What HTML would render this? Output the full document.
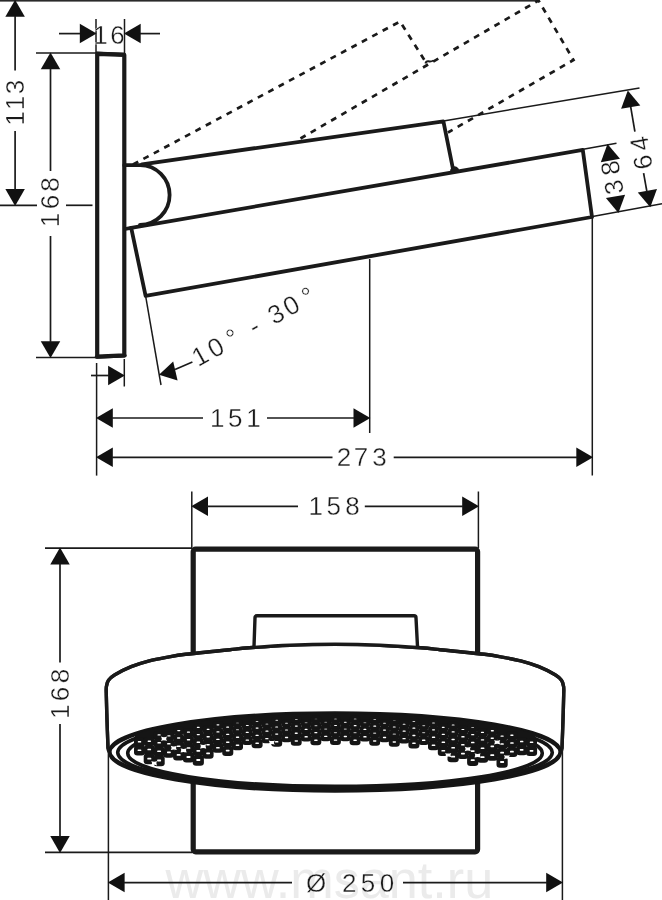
<!DOCTYPE html>
<html lang="en">
<head>
<meta charset="utf-8">
<title>Dimension drawing</title>
<style>
html,body{margin:0;padding:0;background:#fff;}
body{width:662px;height:900px;overflow:hidden;}
svg{display:block;}
svg{filter:grayscale(1);}
svg line{stroke:#1a1a1a;fill:none;}
svg path{stroke:#1a1a1a;}
.nf{fill:none;}
.wf{fill:#fff;}
.ar{fill:#111;stroke:none;}
.o3{stroke-width:3.8;stroke-linejoin:round;stroke-linecap:round;}
.o4{stroke:#1a1a1a;stroke-width:4.2;stroke-linejoin:round;}
.dash path{fill:none;stroke-width:2.7;stroke-dasharray:5.9 5.9;}
.t{font-family:"Liberation Sans","DejaVu Sans",sans-serif;fill:#1a1a1a;stroke:#fff;stroke-width:0.35;}
</style>
</head>
<body>
<svg width="662" height="900" viewBox="0 0 662 900">
<rect x="0" y="0" width="662" height="900" fill="#fff" stroke="none"/>
<rect x="0" y="0" width="538" height="1.6" fill="#2a2a2a" stroke="none"/>
<polygon class="ar" points="15.10,-0.10 24.85,16.70 5.35,16.70"/>
<polygon class="ar" points="15.10,205.90 5.35,189.10 24.85,189.10"/>
<line x1="15.10" y1="16.00" x2="15.10" y2="70.50" stroke-width="1.7" />
<line x1="15.10" y1="131.00" x2="15.10" y2="190.00" stroke-width="1.7" />
<text class="t" transform="translate(15.30,103.00) rotate(-90)" x="-15.40 0.00 16.00" y="8.94" font-size="26" text-anchor="middle">113</text>
<line x1="0.00" y1="205.30" x2="37.00" y2="205.30" stroke-width="1.7" />
<line x1="66.00" y1="205.30" x2="92.50" y2="205.30" stroke-width="1.7" />
<polygon class="ar" points="96.60,33.60 79.80,43.35 79.80,23.85"/>
<polygon class="ar" points="123.90,33.60 140.70,23.85 140.70,43.35"/>
<line x1="59.00" y1="33.60" x2="80.00" y2="33.60" stroke-width="1.7" />
<line x1="140.00" y1="33.60" x2="160.00" y2="33.60" stroke-width="1.7" />
<line x1="96.00" y1="19.00" x2="96.00" y2="53.00" stroke-width="1.5" />
<line x1="124.50" y1="19.00" x2="124.50" y2="53.00" stroke-width="1.5" />
<text class="t" transform="translate(110.50,35.20) rotate(0)" x="-10.00 7.00" y="8.94" font-size="26" text-anchor="middle">16</text>
<line x1="36.00" y1="53.00" x2="96.00" y2="53.00" stroke-width="1.7" />
<line x1="36.00" y1="357.50" x2="96.00" y2="357.50" stroke-width="1.7" />
<polygon class="ar" points="50.50,52.40 60.25,69.20 40.75,69.20"/>
<polygon class="ar" points="50.50,358.10 40.75,341.30 60.25,341.30"/>
<line x1="50.50" y1="69.00" x2="50.50" y2="171.00" stroke-width="1.7" />
<line x1="50.50" y1="236.00" x2="50.50" y2="342.00" stroke-width="1.7" />
<text class="t" transform="translate(50.50,202.00) rotate(-90)" x="-18.00 0.00 17.50" y="8.94" font-size="26" text-anchor="middle">168</text>
<path class="o4 nf" d="M97.2,53.9 L124.3,54.9 L124.3,355.3 L97.2,356.6 Z"/>
<path class="nf" d="M96.5,357 L125,355.7" style="stroke-width:3.6;stroke-linecap:round"/>
<path class="nf" d="M96,53.3 L125,54.6" style="stroke-width:3.6"/>
<path class="o3 nf" d="M124.3,165.2 L140,165.2 A29.6,29.8 0 0 1 140,224.8"/>
<path class="o3 nf" d="M142,164.3 L443.4,121.3 L453.3,170.5"/>
<path class="o3 nf" d="M452,170.5 C453,168 455,167.5 457,169.5" stroke-width="2"/>
<path class="o3 nf" d="M131.2,227.9 L582.8,149.9 L592,217 L145.6,295.9 Z"/>
<path class="o3 nf" d="M131.2,227.9 L125,229"/>
<g class="dash">
<path d="M133,164.5 L400,21.5 L426,62.5"/>
<path d="M300.5,138.5 L538.5,0.5 L573.5,60 L448,132.5"/>
</g>
<path class="nf" d="M425.5,63.5 q0.5,-2.5 3,-2.2 q2.5,0.6 5,-0.8" style="stroke-width:2"/>
<line x1="443.50" y1="121.00" x2="639.50" y2="87.90" stroke-width="1.5" />
<line x1="583.20" y1="149.20" x2="616.50" y2="143.20" stroke-width="1.5" />
<line x1="592.50" y1="216.50" x2="662.00" y2="203.80" stroke-width="1.5" />
<polygon class="ar" points="627.80,90.61 640.31,105.46 621.11,108.85"/>
<polygon class="ar" points="650.30,207.29 637.79,192.44 656.99,189.05"/>
<line x1="630.70" y1="106.90" x2="634.90" y2="131.70" stroke-width="1.7" />
<line x1="643.60" y1="173.20" x2="646.90" y2="191.60" stroke-width="1.7" />
<text class="t" transform="translate(641.30,153.00) rotate(-100)" x="-9.43 9.43" y="8.94" font-size="26" text-anchor="middle">64</text>
<polygon class="ar" points="607.50,144.01 620.01,158.86 600.81,162.25"/>
<polygon class="ar" points="618.40,212.89 605.89,198.04 625.09,194.65"/>
<text class="t" transform="translate(612.20,177.60) rotate(-100)" x="-9.73 9.73" y="8.94" font-size="26" text-anchor="middle">38</text>
<line x1="592.30" y1="217.00" x2="592.30" y2="475.50" stroke-width="1.5" />
<line x1="369.70" y1="259.00" x2="369.70" y2="433.00" stroke-width="1.5" />
<line x1="96.60" y1="363.00" x2="96.60" y2="475.60" stroke-width="1.5" />
<line x1="124.30" y1="359.00" x2="124.30" y2="386.50" stroke-width="1.5" />
<polygon class="ar" points="124.90,375.50 108.10,385.25 108.10,365.75"/>
<line x1="91.00" y1="375.50" x2="109.00" y2="375.50" stroke-width="1.7" />
<line x1="145.60" y1="295.90" x2="161.00" y2="385.00" stroke-width="1.5" />
<polygon class="ar" points="159.02,374.73 173.19,361.46 177.58,380.46"/>
<line x1="175.00" y1="369.50" x2="192.40" y2="362.00" stroke-width="1.7" />
<text class="t" transform="translate(200.10,356.00) rotate(-29)" x="0.00 17.80 37.20 49.00 61.60 74.00 86.70 104.20 123.70" y="8.94" font-size="26" text-anchor="middle">10° - 30°</text>
<polygon class="ar" points="96.00,418.00 112.80,408.25 112.80,427.75"/>
<polygon class="ar" points="370.30,418.00 353.50,427.75 353.50,408.25"/>
<line x1="112.00" y1="418.00" x2="203.00" y2="418.00" stroke-width="1.7" />
<line x1="267.00" y1="418.00" x2="354.00" y2="418.00" stroke-width="1.7" />
<text class="t" transform="translate(235.50,418.00) rotate(0)" x="-18.20 -0.40 18.10" y="8.94" font-size="26" text-anchor="middle">151</text>
<polygon class="ar" points="96.00,457.30 112.80,447.55 112.80,467.05"/>
<polygon class="ar" points="593.10,457.30 576.30,467.05 576.30,447.55"/>
<line x1="112.00" y1="457.30" x2="332.50" y2="457.30" stroke-width="1.7" />
<line x1="393.70" y1="457.30" x2="577.00" y2="457.30" stroke-width="1.7" />
<text class="t" transform="translate(361.60,457.40) rotate(0)" x="-17.70 -0.60 17.80" y="8.94" font-size="26" text-anchor="middle">273</text>
<text x="165.5" y="897.5" font-size="52.2" style="fill:#ebebeb;stroke:none;font-family:'Liberation Sans',sans-serif">www.msant.ru</text>
<line x1="191.80" y1="491.50" x2="191.80" y2="548.00" stroke-width="1.5" />
<line x1="478.40" y1="491.50" x2="478.40" y2="548.00" stroke-width="1.5" />
<polygon class="ar" points="191.20,506.30 208.00,496.55 208.00,516.05"/>
<polygon class="ar" points="479.00,506.30 462.20,516.05 462.20,496.55"/>
<line x1="207.00" y1="506.30" x2="298.00" y2="506.30" stroke-width="1.7" />
<line x1="364.80" y1="506.30" x2="463.00" y2="506.30" stroke-width="1.7" />
<text class="t" transform="translate(336.00,506.30) rotate(0)" x="-20.20 -2.40 16.40" y="8.94" font-size="26" text-anchor="middle">158</text>
<line x1="45.00" y1="548.20" x2="192.00" y2="548.20" stroke-width="1.7" />
<line x1="45.00" y1="852.30" x2="192.00" y2="852.30" stroke-width="1.7" />
<polygon class="ar" points="60.00,547.60 69.75,564.40 50.25,564.40"/>
<polygon class="ar" points="60.00,852.90 50.25,836.10 69.75,836.10"/>
<line x1="60.00" y1="564.00" x2="60.00" y2="662.50" stroke-width="1.7" />
<line x1="60.00" y1="724.00" x2="60.00" y2="837.00" stroke-width="1.7" />
<text class="t" transform="translate(60.50,693.00) rotate(-90)" x="-18.70 -1.00 17.00" y="8.94" font-size="26" text-anchor="middle">168</text>
<rect class="o4 nf" x="193.2" y="549.1" width="284.4" height="302.7" rx="2.5" style="stroke-width:5.2"/>
<path class="o3 wf" d="M108.00,748.00 C107.83,743.33 107.28,728.83 107.00,720.00 C106.72,711.17 106.40,700.58 106.30,695.00 C106.20,689.42 106.03,688.95 106.40,686.50 C106.77,684.05 107.08,682.25 108.50,680.30 C109.92,678.35 111.12,677.07 114.90,674.80 C118.68,672.53 125.47,669.02 131.20,666.70 C136.93,664.38 143.25,662.48 149.30,660.90 C155.35,659.32 161.45,658.30 167.50,657.20 C173.55,656.10 177.68,655.30 185.60,654.30 C193.52,653.30 207.60,651.97 215.00,651.20 C222.40,650.43 224.28,650.28 230.00,649.70 C235.72,649.12 239.30,648.45 249.30,647.70 C259.30,646.95 275.72,645.77 290.00,645.20 C304.28,644.63 320.00,644.30 335.00,644.30 C350.00,644.30 365.72,644.63 380.00,645.20 C394.28,645.77 410.70,646.95 420.70,647.70 C430.70,648.45 434.28,649.12 440.00,649.70 C445.72,650.28 447.60,650.43 455.00,651.20 C462.40,651.97 476.48,653.30 484.40,654.30 C492.32,655.30 496.45,656.10 502.50,657.20 C508.55,658.30 514.65,659.32 520.70,660.90 C526.75,662.48 533.07,664.38 538.80,666.70 C544.53,669.02 551.32,672.53 555.10,674.80 C558.88,677.07 560.08,678.35 561.50,680.30 C562.92,682.25 563.23,684.05 563.60,686.50 C563.97,688.95 563.80,689.42 563.70,695.00 C563.60,700.58 563.28,711.17 563.00,720.00 C562.72,728.83 562.17,743.33 562.00,748.00 A226.5,38.8 0 0 1 108,748 Z" style="stroke-width:3.4"/>
<path class="o3 wf" style="stroke-width:3.4" d="M254,646.5 L255,617.8 Q255,615.8 257,615.8 L414,615.8 Q416,615.8 416,617.8 L417.5,646.5"/>
<path class="o3 nf" d="M108.00,748.00 C107.83,743.33 107.28,728.83 107.00,720.00 C106.72,711.17 106.40,700.58 106.30,695.00 C106.20,689.42 106.03,688.95 106.40,686.50 C106.77,684.05 107.08,682.25 108.50,680.30 C109.92,678.35 111.12,677.07 114.90,674.80 C118.68,672.53 125.47,669.02 131.20,666.70 C136.93,664.38 143.25,662.48 149.30,660.90 C155.35,659.32 161.45,658.30 167.50,657.20 C173.55,656.10 177.68,655.30 185.60,654.30 C193.52,653.30 207.60,651.97 215.00,651.20 C222.40,650.43 224.28,650.28 230.00,649.70 C235.72,649.12 239.30,648.45 249.30,647.70 C259.30,646.95 275.72,645.77 290.00,645.20 C304.28,644.63 320.00,644.30 335.00,644.30 C350.00,644.30 365.72,644.63 380.00,645.20 C394.28,645.77 410.70,646.95 420.70,647.70 C430.70,648.45 434.28,649.12 440.00,649.70 C445.72,650.28 447.60,650.43 455.00,651.20 C462.40,651.97 476.48,653.30 484.40,654.30 C492.32,655.30 496.45,656.10 502.50,657.20 C508.55,658.30 514.65,659.32 520.70,660.90 C526.75,662.48 533.07,664.38 538.80,666.70 C544.53,669.02 551.32,672.53 555.10,674.80 C558.88,677.07 560.08,678.35 561.50,680.30 C562.92,682.25 563.23,684.05 563.60,686.50 C563.97,688.95 563.80,689.42 563.70,695.00 C563.60,700.58 563.28,711.17 563.00,720.00 C562.72,728.83 562.17,743.33 562.00,748.00" style="stroke-width:3.4"/>
<g id="face">
<ellipse cx="335.0" cy="751.3" rx="225.3" ry="38.4" fill="#fff" stroke="#151515" stroke-width="3.2"/>
<ellipse cx="335.0" cy="752.7" rx="225.3" ry="38.4" fill="none" stroke="#151515" stroke-width="3.2"/>
<ellipse cx="335.0" cy="752.6" rx="217.3" ry="35.6" fill="none" stroke="#151515" stroke-width="3.6"/>
<ellipse cx="335.0" cy="753.2" rx="207.3" ry="33.2" fill="none" stroke="#151515" stroke-width="3.6"/>
<polygon fill="#151515" stroke="none" points="135.0,734.2 141.7,732.2 148.3,730.5 155.0,728.9 161.7,727.5 168.3,726.2 175.0,725.0 181.7,723.9 188.3,722.9 195.0,722.0 201.7,721.2 208.3,720.4 215.0,719.6 221.7,719.0 228.3,718.3 235.0,717.7 241.7,717.2 248.3,716.7 255.0,716.3 261.7,715.9 268.3,715.5 275.0,715.2 281.7,714.9 288.3,714.6 295.0,714.4 301.7,714.2 308.3,714.1 315.0,713.9 321.7,713.9 328.3,713.8 335.0,713.8 341.7,713.8 348.3,713.9 355.0,713.9 361.7,714.1 368.3,714.2 375.0,714.4 381.7,714.6 388.3,714.9 395.0,715.2 401.7,715.5 408.3,715.9 415.0,716.3 421.7,716.7 428.3,717.2 435.0,717.7 441.7,718.3 448.3,719.0 455.0,719.6 461.7,720.4 468.3,721.2 475.0,722.0 481.7,722.9 488.3,723.9 495.0,725.0 501.7,726.2 508.3,727.5 515.0,728.9 521.7,730.5 528.3,732.2 535.0,734.2 535.0,746.9 528.3,743.4 521.7,740.9 515.0,738.9 508.3,737.1 501.7,735.7 495.0,734.3 488.3,733.1 481.7,732.0 475.0,731.1 468.3,730.2 461.7,729.3 455.0,728.6 448.3,727.9 441.7,727.2 435.0,726.6 428.3,726.1 421.7,725.6 415.0,725.2 408.3,724.8 401.7,724.4 395.0,724.1 388.3,723.8 381.7,723.5 375.0,723.3 368.3,723.1 361.7,723.0 355.0,722.8 348.3,722.8 341.7,722.7 335.0,722.7 328.3,722.7 321.7,722.8 315.0,722.8 308.3,723.0 301.7,723.1 295.0,723.3 288.3,723.5 281.7,723.8 275.0,724.1 268.3,724.4 261.7,724.8 255.0,725.2 248.3,725.6 241.7,726.1 235.0,726.6 228.3,727.2 221.7,727.9 215.0,728.6 208.3,729.3 201.7,730.2 195.0,731.1 188.3,732.0 181.7,733.1 175.0,734.3 168.3,735.7 161.7,737.1 155.0,738.9 148.3,740.9 141.7,743.4 135.0,746.9"/>
<rect x="134.0" y="737.5" width="11.0" height="9.2" rx="3.4" ry="3" fill="#151515" stroke="none"/>
<rect x="134.0" y="745.6" width="11.1" height="9.9" rx="3.4" ry="3" fill="#151515" stroke="none"/>
<rect x="143.8" y="736.9" width="11.0" height="9.2" rx="3.4" ry="3" fill="#151515" stroke="none"/>
<rect x="143.8" y="744.9" width="11.1" height="9.9" rx="3.4" ry="3" fill="#151515" stroke="none"/>
<rect x="143.7" y="753.6" width="11.2" height="10.6" rx="3.4" ry="3" fill="#151515" stroke="none"/>
<rect x="153.7" y="730.9" width="10.9" height="8.6" rx="3.4" ry="3" fill="#151515" stroke="none"/>
<rect x="153.6" y="738.4" width="11.0" height="9.3" rx="3.4" ry="3" fill="#151515" stroke="none"/>
<rect x="153.5" y="746.6" width="11.1" height="10.0" rx="3.4" ry="3" fill="#151515" stroke="none"/>
<rect x="153.5" y="755.4" width="11.2" height="10.8" rx="3.4" ry="3" fill="#151515" stroke="none"/>
<rect x="163.5" y="731.8" width="10.9" height="8.7" rx="3.4" ry="3" fill="#151515" stroke="none"/>
<rect x="163.4" y="739.4" width="11.0" height="9.4" rx="3.4" ry="3" fill="#151515" stroke="none"/>
<rect x="163.3" y="747.6" width="11.1" height="10.1" rx="3.4" ry="3" fill="#151515" stroke="none"/>
<rect x="173.3" y="726.7" width="10.8" height="8.3" rx="3.4" ry="3" fill="#151515" stroke="none"/>
<rect x="173.2" y="733.9" width="10.9" height="8.9" rx="3.4" ry="3" fill="#151515" stroke="none"/>
<rect x="173.2" y="741.6" width="11.0" height="9.6" rx="3.4" ry="3" fill="#151515" stroke="none"/>
<rect x="173.1" y="750.1" width="11.2" height="10.3" rx="3.4" ry="3" fill="#151515" stroke="none"/>
<rect x="183.1" y="728.3" width="10.8" height="8.4" rx="3.4" ry="3" fill="#151515" stroke="none"/>
<rect x="183.0" y="735.5" width="10.9" height="9.0" rx="3.4" ry="3" fill="#151515" stroke="none"/>
<rect x="183.0" y="743.4" width="11.1" height="9.7" rx="3.4" ry="3" fill="#151515" stroke="none"/>
<rect x="182.9" y="752.0" width="11.2" height="10.5" rx="3.4" ry="3" fill="#151515" stroke="none"/>
<rect x="192.9" y="723.7" width="10.7" height="8.0" rx="3.4" ry="3" fill="#151515" stroke="none"/>
<rect x="192.9" y="730.6" width="10.9" height="8.6" rx="3.4" ry="3" fill="#151515" stroke="none"/>
<rect x="192.8" y="738.0" width="11.0" height="9.3" rx="3.4" ry="3" fill="#151515" stroke="none"/>
<rect x="192.8" y="746.1" width="11.1" height="10.0" rx="3.4" ry="3" fill="#151515" stroke="none"/>
<rect x="192.7" y="754.9" width="11.2" height="10.8" rx="3.4" ry="3" fill="#151515" stroke="none"/>
<rect x="202.7" y="725.6" width="10.8" height="8.2" rx="3.4" ry="3" fill="#151515" stroke="none"/>
<rect x="202.7" y="732.6" width="10.9" height="8.8" rx="3.4" ry="3" fill="#151515" stroke="none"/>
<rect x="202.6" y="740.3" width="11.0" height="9.5" rx="3.4" ry="3" fill="#151515" stroke="none"/>
<rect x="202.5" y="748.6" width="11.1" height="10.2" rx="3.4" ry="3" fill="#151515" stroke="none"/>
<rect x="212.5" y="721.3" width="10.7" height="7.8" rx="3.4" ry="3" fill="#151515" stroke="none"/>
<rect x="212.5" y="728.0" width="10.8" height="8.4" rx="3.4" ry="3" fill="#151515" stroke="none"/>
<rect x="212.4" y="735.2" width="10.9" height="9.0" rx="3.4" ry="3" fill="#151515" stroke="none"/>
<rect x="212.4" y="743.1" width="11.0" height="9.7" rx="3.4" ry="3" fill="#151515" stroke="none"/>
<rect x="222.3" y="723.5" width="10.7" height="8.0" rx="3.4" ry="3" fill="#151515" stroke="none"/>
<rect x="222.3" y="730.3" width="10.8" height="8.6" rx="3.4" ry="3" fill="#151515" stroke="none"/>
<rect x="222.2" y="737.8" width="11.0" height="9.2" rx="3.4" ry="3" fill="#151515" stroke="none"/>
<rect x="222.2" y="745.9" width="11.1" height="10.0" rx="3.4" ry="3" fill="#151515" stroke="none"/>
<rect x="232.2" y="719.4" width="10.7" height="7.6" rx="3.4" ry="3" fill="#151515" stroke="none"/>
<rect x="232.1" y="726.0" width="10.8" height="8.2" rx="3.4" ry="3" fill="#151515" stroke="none"/>
<rect x="232.1" y="733.1" width="10.9" height="8.8" rx="3.4" ry="3" fill="#151515" stroke="none"/>
<rect x="232.0" y="740.7" width="11.0" height="9.5" rx="3.4" ry="3" fill="#151515" stroke="none"/>
<rect x="241.9" y="721.8" width="10.7" height="7.8" rx="3.4" ry="3" fill="#151515" stroke="none"/>
<rect x="241.9" y="728.6" width="10.8" height="8.4" rx="3.4" ry="3" fill="#151515" stroke="none"/>
<rect x="241.8" y="735.9" width="10.9" height="9.1" rx="3.4" ry="3" fill="#151515" stroke="none"/>
<rect x="251.8" y="718.0" width="10.7" height="7.5" rx="3.4" ry="3" fill="#151515" stroke="none"/>
<rect x="251.7" y="724.4" width="10.8" height="8.1" rx="3.4" ry="3" fill="#151515" stroke="none"/>
<rect x="251.7" y="731.4" width="10.9" height="8.7" rx="3.4" ry="3" fill="#151515" stroke="none"/>
<rect x="251.6" y="738.9" width="11.0" height="9.3" rx="3.4" ry="3" fill="#151515" stroke="none"/>
<rect x="261.6" y="720.6" width="10.7" height="7.7" rx="3.4" ry="3" fill="#151515" stroke="none"/>
<rect x="261.5" y="727.2" width="10.8" height="8.3" rx="3.4" ry="3" fill="#151515" stroke="none"/>
<rect x="261.4" y="734.4" width="10.9" height="8.9" rx="3.4" ry="3" fill="#151515" stroke="none"/>
<rect x="271.4" y="717.0" width="10.6" height="7.4" rx="3.4" ry="3" fill="#151515" stroke="none"/>
<rect x="271.3" y="723.3" width="10.7" height="8.0" rx="3.4" ry="3" fill="#151515" stroke="none"/>
<rect x="271.3" y="730.1" width="10.8" height="8.6" rx="3.4" ry="3" fill="#151515" stroke="none"/>
<rect x="271.2" y="737.6" width="11.0" height="9.2" rx="3.4" ry="3" fill="#151515" stroke="none"/>
<rect x="281.2" y="719.7" width="10.7" height="7.6" rx="3.4" ry="3" fill="#151515" stroke="none"/>
<rect x="281.1" y="726.3" width="10.8" height="8.2" rx="3.4" ry="3" fill="#151515" stroke="none"/>
<rect x="281.1" y="733.4" width="10.9" height="8.9" rx="3.4" ry="3" fill="#151515" stroke="none"/>
<rect x="291.0" y="716.2" width="10.6" height="7.3" rx="3.4" ry="3" fill="#151515" stroke="none"/>
<rect x="290.9" y="722.5" width="10.7" height="7.9" rx="3.4" ry="3" fill="#151515" stroke="none"/>
<rect x="290.9" y="729.3" width="10.8" height="8.5" rx="3.4" ry="3" fill="#151515" stroke="none"/>
<rect x="290.8" y="736.6" width="10.9" height="9.1" rx="3.4" ry="3" fill="#151515" stroke="none"/>
<rect x="300.8" y="719.1" width="10.7" height="7.6" rx="3.4" ry="3" fill="#151515" stroke="none"/>
<rect x="300.7" y="725.6" width="10.8" height="8.2" rx="3.4" ry="3" fill="#151515" stroke="none"/>
<rect x="300.7" y="732.7" width="10.9" height="8.8" rx="3.4" ry="3" fill="#151515" stroke="none"/>
<rect x="310.6" y="715.8" width="10.6" height="7.3" rx="3.4" ry="3" fill="#151515" stroke="none"/>
<rect x="310.5" y="722.0" width="10.7" height="7.8" rx="3.4" ry="3" fill="#151515" stroke="none"/>
<rect x="310.5" y="728.8" width="10.8" height="8.4" rx="3.4" ry="3" fill="#151515" stroke="none"/>
<rect x="310.4" y="736.1" width="10.9" height="9.1" rx="3.4" ry="3" fill="#151515" stroke="none"/>
<rect x="320.4" y="718.9" width="10.7" height="7.6" rx="3.4" ry="3" fill="#151515" stroke="none"/>
<rect x="320.3" y="725.3" width="10.8" height="8.1" rx="3.4" ry="3" fill="#151515" stroke="none"/>
<rect x="320.3" y="732.4" width="10.9" height="8.8" rx="3.4" ry="3" fill="#151515" stroke="none"/>
<rect x="330.2" y="715.7" width="10.6" height="7.3" rx="3.4" ry="3" fill="#151515" stroke="none"/>
<rect x="330.1" y="721.9" width="10.7" height="7.8" rx="3.4" ry="3" fill="#151515" stroke="none"/>
<rect x="330.1" y="728.6" width="10.8" height="8.4" rx="3.4" ry="3" fill="#151515" stroke="none"/>
<rect x="330.0" y="735.9" width="10.9" height="9.1" rx="3.4" ry="3" fill="#151515" stroke="none"/>
<rect x="340.0" y="718.9" width="10.7" height="7.6" rx="3.4" ry="3" fill="#151515" stroke="none"/>
<rect x="339.9" y="725.3" width="10.8" height="8.1" rx="3.4" ry="3" fill="#151515" stroke="none"/>
<rect x="339.9" y="732.4" width="10.9" height="8.8" rx="3.4" ry="3" fill="#151515" stroke="none"/>
<rect x="349.8" y="715.8" width="10.6" height="7.3" rx="3.4" ry="3" fill="#151515" stroke="none"/>
<rect x="349.7" y="722.0" width="10.7" height="7.8" rx="3.4" ry="3" fill="#151515" stroke="none"/>
<rect x="349.7" y="728.8" width="10.8" height="8.4" rx="3.4" ry="3" fill="#151515" stroke="none"/>
<rect x="349.6" y="736.1" width="10.9" height="9.1" rx="3.4" ry="3" fill="#151515" stroke="none"/>
<rect x="359.6" y="719.2" width="10.7" height="7.6" rx="3.4" ry="3" fill="#151515" stroke="none"/>
<rect x="359.5" y="725.7" width="10.8" height="8.2" rx="3.4" ry="3" fill="#151515" stroke="none"/>
<rect x="359.5" y="732.7" width="10.9" height="8.8" rx="3.4" ry="3" fill="#151515" stroke="none"/>
<rect x="369.4" y="716.3" width="10.6" height="7.3" rx="3.4" ry="3" fill="#151515" stroke="none"/>
<rect x="369.3" y="722.5" width="10.7" height="7.9" rx="3.4" ry="3" fill="#151515" stroke="none"/>
<rect x="369.3" y="729.3" width="10.8" height="8.5" rx="3.4" ry="3" fill="#151515" stroke="none"/>
<rect x="369.2" y="736.7" width="10.9" height="9.1" rx="3.4" ry="3" fill="#151515" stroke="none"/>
<rect x="379.2" y="719.7" width="10.7" height="7.6" rx="3.4" ry="3" fill="#151515" stroke="none"/>
<rect x="379.1" y="726.3" width="10.8" height="8.2" rx="3.4" ry="3" fill="#151515" stroke="none"/>
<rect x="379.1" y="733.4" width="10.9" height="8.9" rx="3.4" ry="3" fill="#151515" stroke="none"/>
<rect x="389.0" y="717.0" width="10.6" height="7.4" rx="3.4" ry="3" fill="#151515" stroke="none"/>
<rect x="388.9" y="723.3" width="10.7" height="8.0" rx="3.4" ry="3" fill="#151515" stroke="none"/>
<rect x="388.9" y="730.2" width="10.8" height="8.6" rx="3.4" ry="3" fill="#151515" stroke="none"/>
<rect x="388.8" y="737.6" width="11.0" height="9.2" rx="3.4" ry="3" fill="#151515" stroke="none"/>
<rect x="398.8" y="720.7" width="10.7" height="7.7" rx="3.4" ry="3" fill="#151515" stroke="none"/>
<rect x="398.7" y="727.3" width="10.8" height="8.3" rx="3.4" ry="3" fill="#151515" stroke="none"/>
<rect x="398.6" y="734.5" width="10.9" height="9.0" rx="3.4" ry="3" fill="#151515" stroke="none"/>
<rect x="408.6" y="718.1" width="10.7" height="7.5" rx="3.4" ry="3" fill="#151515" stroke="none"/>
<rect x="408.5" y="724.5" width="10.8" height="8.1" rx="3.4" ry="3" fill="#151515" stroke="none"/>
<rect x="408.5" y="731.4" width="10.9" height="8.7" rx="3.4" ry="3" fill="#151515" stroke="none"/>
<rect x="408.4" y="739.0" width="11.0" height="9.4" rx="3.4" ry="3" fill="#151515" stroke="none"/>
<rect x="418.3" y="721.9" width="10.7" height="7.8" rx="3.4" ry="3" fill="#151515" stroke="none"/>
<rect x="418.3" y="728.7" width="10.8" height="8.4" rx="3.4" ry="3" fill="#151515" stroke="none"/>
<rect x="418.2" y="736.0" width="10.9" height="9.1" rx="3.4" ry="3" fill="#151515" stroke="none"/>
<rect x="428.2" y="719.5" width="10.7" height="7.6" rx="3.4" ry="3" fill="#151515" stroke="none"/>
<rect x="428.1" y="726.1" width="10.8" height="8.2" rx="3.4" ry="3" fill="#151515" stroke="none"/>
<rect x="428.1" y="733.1" width="10.9" height="8.8" rx="3.4" ry="3" fill="#151515" stroke="none"/>
<rect x="428.0" y="740.8" width="11.0" height="9.5" rx="3.4" ry="3" fill="#151515" stroke="none"/>
<rect x="437.9" y="723.6" width="10.7" height="8.0" rx="3.4" ry="3" fill="#151515" stroke="none"/>
<rect x="437.9" y="730.4" width="10.9" height="8.6" rx="3.4" ry="3" fill="#151515" stroke="none"/>
<rect x="437.8" y="737.9" width="11.0" height="9.3" rx="3.4" ry="3" fill="#151515" stroke="none"/>
<rect x="437.8" y="746.0" width="11.1" height="10.0" rx="3.4" ry="3" fill="#151515" stroke="none"/>
<rect x="447.7" y="721.4" width="10.7" height="7.8" rx="3.4" ry="3" fill="#151515" stroke="none"/>
<rect x="447.7" y="728.1" width="10.8" height="8.4" rx="3.4" ry="3" fill="#151515" stroke="none"/>
<rect x="447.6" y="735.4" width="10.9" height="9.0" rx="3.4" ry="3" fill="#151515" stroke="none"/>
<rect x="447.6" y="743.2" width="11.1" height="9.7" rx="3.4" ry="3" fill="#151515" stroke="none"/>
<rect x="447.5" y="751.8" width="11.2" height="10.5" rx="3.4" ry="3" fill="#151515" stroke="none"/>
<rect x="457.5" y="725.7" width="10.8" height="8.2" rx="3.4" ry="3" fill="#151515" stroke="none"/>
<rect x="457.5" y="732.7" width="10.9" height="8.8" rx="3.4" ry="3" fill="#151515" stroke="none"/>
<rect x="457.4" y="740.4" width="11.0" height="9.5" rx="3.4" ry="3" fill="#151515" stroke="none"/>
<rect x="457.3" y="748.7" width="11.1" height="10.2" rx="3.4" ry="3" fill="#151515" stroke="none"/>
<rect x="467.3" y="723.8" width="10.7" height="8.0" rx="3.4" ry="3" fill="#151515" stroke="none"/>
<rect x="467.3" y="730.7" width="10.9" height="8.6" rx="3.4" ry="3" fill="#151515" stroke="none"/>
<rect x="467.2" y="738.2" width="11.0" height="9.3" rx="3.4" ry="3" fill="#151515" stroke="none"/>
<rect x="467.2" y="746.3" width="11.1" height="10.0" rx="3.4" ry="3" fill="#151515" stroke="none"/>
<rect x="467.1" y="755.1" width="11.2" height="10.8" rx="3.4" ry="3" fill="#151515" stroke="none"/>
<rect x="477.1" y="728.4" width="10.8" height="8.4" rx="3.4" ry="3" fill="#151515" stroke="none"/>
<rect x="477.0" y="735.7" width="10.9" height="9.1" rx="3.4" ry="3" fill="#151515" stroke="none"/>
<rect x="477.0" y="743.6" width="11.1" height="9.8" rx="3.4" ry="3" fill="#151515" stroke="none"/>
<rect x="476.9" y="752.2" width="11.2" height="10.5" rx="3.4" ry="3" fill="#151515" stroke="none"/>
<rect x="486.9" y="726.9" width="10.8" height="8.3" rx="3.4" ry="3" fill="#151515" stroke="none"/>
<rect x="486.8" y="734.1" width="10.9" height="8.9" rx="3.4" ry="3" fill="#151515" stroke="none"/>
<rect x="486.8" y="741.9" width="11.0" height="9.6" rx="3.4" ry="3" fill="#151515" stroke="none"/>
<rect x="486.7" y="750.3" width="11.2" height="10.4" rx="3.4" ry="3" fill="#151515" stroke="none"/>
<rect x="496.7" y="732.0" width="10.9" height="8.7" rx="3.4" ry="3" fill="#151515" stroke="none"/>
<rect x="496.6" y="739.6" width="11.0" height="9.4" rx="3.4" ry="3" fill="#151515" stroke="none"/>
<rect x="496.5" y="747.9" width="11.1" height="10.1" rx="3.4" ry="3" fill="#151515" stroke="none"/>
<rect x="496.5" y="756.8" width="11.2" height="10.9" rx="3.4" ry="3" fill="#151515" stroke="none"/>
<rect x="506.5" y="731.2" width="10.9" height="8.7" rx="3.4" ry="3" fill="#151515" stroke="none"/>
<rect x="506.4" y="738.7" width="11.0" height="9.3" rx="3.4" ry="3" fill="#151515" stroke="none"/>
<rect x="506.3" y="746.9" width="11.1" height="10.1" rx="3.4" ry="3" fill="#151515" stroke="none"/>
<rect x="516.2" y="737.2" width="11.0" height="9.2" rx="3.4" ry="3" fill="#151515" stroke="none"/>
<rect x="516.2" y="745.3" width="11.1" height="9.9" rx="3.4" ry="3" fill="#151515" stroke="none"/>
<rect x="526.0" y="738.0" width="11.0" height="9.3" rx="3.4" ry="3" fill="#151515" stroke="none"/>
<rect x="526.0" y="746.1" width="11.1" height="10.0" rx="3.4" ry="3" fill="#151515" stroke="none"/>
<rect x="137.8" y="741.1" width="3.4" height="1.5" rx="0.6" fill="rgb(255,255,255)" stroke="none"/>
<rect x="137.6" y="749.4" width="3.7" height="1.7" rx="0.6" fill="rgb(255,255,255)" stroke="none"/>
<rect x="147.6" y="740.4" width="3.4" height="1.5" rx="0.6" fill="rgb(255,255,255)" stroke="none"/>
<rect x="147.4" y="748.7" width="3.7" height="1.6" rx="0.6" fill="rgb(255,255,255)" stroke="none"/>
<rect x="147.3" y="757.7" width="4.0" height="1.8" rx="0.6" fill="rgb(255,255,255)" stroke="none"/>
<rect x="157.5" y="734.3" width="3.2" height="1.3" rx="0.6" fill="rgb(255,255,255)" stroke="none"/>
<rect x="157.4" y="742.0" width="3.5" height="1.5" rx="0.6" fill="rgb(255,255,255)" stroke="none"/>
<rect x="157.2" y="750.4" width="3.8" height="1.7" rx="0.6" fill="rgb(255,255,255)" stroke="none"/>
<rect x="157.1" y="759.6" width="4.0" height="1.8" rx="0.6" fill="rgb(255,255,255)" stroke="none"/>
<rect x="167.3" y="735.2" width="3.2" height="1.4" rx="0.6" fill="rgb(255,255,255)" stroke="none"/>
<rect x="167.1" y="743.0" width="3.5" height="1.5" rx="0.6" fill="rgb(255,255,255)" stroke="none"/>
<rect x="167.0" y="751.5" width="3.8" height="1.7" rx="0.6" fill="rgb(255,255,255)" stroke="none"/>
<rect x="177.2" y="729.9" width="3.1" height="1.3" rx="0.6" fill="rgb(255,255,255)" stroke="none"/>
<rect x="177.0" y="737.3" width="3.3" height="1.4" rx="0.6" fill="rgb(255,255,255)" stroke="none"/>
<rect x="176.9" y="745.4" width="3.6" height="1.6" rx="0.6" fill="rgb(255,255,255)" stroke="none"/>
<rect x="176.7" y="754.1" width="3.9" height="1.7" rx="0.6" fill="rgb(255,255,255)" stroke="none"/>
<rect x="186.9" y="731.5" width="3.1" height="1.3" rx="0.6" fill="rgb(255,255,255)" stroke="none"/>
<rect x="186.8" y="739.0" width="3.4" height="1.4" rx="0.6" fill="rgb(255,255,255)" stroke="none"/>
<rect x="186.7" y="747.2" width="3.7" height="1.6" rx="0.6" fill="rgb(255,255,255)" stroke="none"/>
<rect x="186.5" y="756.1" width="4.0" height="1.8" rx="0.6" fill="rgb(255,255,255)" stroke="none"/>
<rect x="196.8" y="726.8" width="2.9" height="1.2" rx="0.6" fill="rgb(255,255,255)" stroke="none"/>
<rect x="196.7" y="733.9" width="3.2" height="1.3" rx="0.6" fill="rgb(255,255,255)" stroke="none"/>
<rect x="196.6" y="741.6" width="3.5" height="1.5" rx="0.6" fill="rgb(255,255,255)" stroke="none"/>
<rect x="196.4" y="750.0" width="3.8" height="1.7" rx="0.6" fill="rgb(255,255,255)" stroke="none"/>
<rect x="196.3" y="759.1" width="4.0" height="1.8" rx="0.6" fill="rgb(255,255,255)" stroke="none"/>
<rect x="206.6" y="728.7" width="3.0" height="1.2" rx="0.6" fill="rgb(255,255,255)" stroke="none"/>
<rect x="206.5" y="736.0" width="3.3" height="1.4" rx="0.6" fill="rgb(255,255,255)" stroke="none"/>
<rect x="206.3" y="743.9" width="3.5" height="1.5" rx="0.6" fill="rgb(255,255,255)" stroke="none"/>
<rect x="206.2" y="752.5" width="3.8" height="1.7" rx="0.6" fill="rgb(255,255,255)" stroke="none"/>
<rect x="216.5" y="724.3" width="2.9" height="1.1" rx="0.6" fill="rgb(243,243,243)" stroke="none"/>
<rect x="216.4" y="731.2" width="3.1" height="1.3" rx="0.6" fill="rgb(255,255,255)" stroke="none"/>
<rect x="216.2" y="738.7" width="3.4" height="1.4" rx="0.6" fill="rgb(255,255,255)" stroke="none"/>
<rect x="216.1" y="746.9" width="3.6" height="1.6" rx="0.6" fill="rgb(255,255,255)" stroke="none"/>
<rect x="226.2" y="726.6" width="2.9" height="1.2" rx="0.6" fill="rgb(255,255,255)" stroke="none"/>
<rect x="226.1" y="733.7" width="3.2" height="1.3" rx="0.6" fill="rgb(255,255,255)" stroke="none"/>
<rect x="226.0" y="741.4" width="3.5" height="1.5" rx="0.6" fill="rgb(255,255,255)" stroke="none"/>
<rect x="225.8" y="749.7" width="3.8" height="1.7" rx="0.6" fill="rgb(255,255,255)" stroke="none"/>
<rect x="236.1" y="722.4" width="2.8" height="1.1" rx="0.6" fill="rgb(127,127,127)" stroke="none"/>
<rect x="236.0" y="729.1" width="3.0" height="1.2" rx="0.6" fill="rgb(165,165,165)" stroke="none"/>
<rect x="235.9" y="736.5" width="3.3" height="1.4" rx="0.6" fill="rgb(255,255,255)" stroke="none"/>
<rect x="235.7" y="744.4" width="3.6" height="1.5" rx="0.6" fill="rgb(255,255,255)" stroke="none"/>
<rect x="245.9" y="724.9" width="2.9" height="1.2" rx="0.6" fill="rgb(251,251,251)" stroke="none"/>
<rect x="245.7" y="731.8" width="3.1" height="1.3" rx="0.6" fill="rgb(255,255,255)" stroke="none"/>
<rect x="245.6" y="739.4" width="3.4" height="1.4" rx="0.6" fill="rgb(255,255,255)" stroke="none"/>
<rect x="255.7" y="720.9" width="2.7" height="1.1" rx="0.6" fill="rgb(197,197,197)" stroke="none"/>
<rect x="255.6" y="727.5" width="3.0" height="1.2" rx="0.6" fill="rgb(255,255,255)" stroke="none"/>
<rect x="255.5" y="734.7" width="3.2" height="1.4" rx="0.6" fill="rgb(255,255,255)" stroke="none"/>
<rect x="255.4" y="742.5" width="3.5" height="1.5" rx="0.6" fill="rgb(255,255,255)" stroke="none"/>
<rect x="265.5" y="723.6" width="2.8" height="1.1" rx="0.6" fill="rgb(144,144,144)" stroke="none"/>
<rect x="265.4" y="730.5" width="3.1" height="1.3" rx="0.6" fill="rgb(255,255,255)" stroke="none"/>
<rect x="265.2" y="737.9" width="3.3" height="1.4" rx="0.6" fill="rgb(255,255,255)" stroke="none"/>
<rect x="275.4" y="719.8" width="2.7" height="1.1" rx="0.6" fill="rgb(182,182,182)" stroke="none"/>
<rect x="275.2" y="726.4" width="2.9" height="1.2" rx="0.6" fill="rgb(255,255,255)" stroke="none"/>
<rect x="275.1" y="733.4" width="3.2" height="1.3" rx="0.6" fill="rgb(255,255,255)" stroke="none"/>
<rect x="275.0" y="741.1" width="3.4" height="1.5" rx="0.6" fill="rgb(255,255,255)" stroke="none"/>
<rect x="285.1" y="722.7" width="2.8" height="1.1" rx="0.6" fill="rgb(221,221,221)" stroke="none"/>
<rect x="285.0" y="729.4" width="3.0" height="1.2" rx="0.6" fill="rgb(255,255,255)" stroke="none"/>
<rect x="284.9" y="736.8" width="3.3" height="1.4" rx="0.6" fill="rgb(255,255,255)" stroke="none"/>
<rect x="295.0" y="719.1" width="2.7" height="1.0" rx="0.6" fill="rgb(172,172,172)" stroke="none"/>
<rect x="294.9" y="725.5" width="2.9" height="1.2" rx="0.6" fill="rgb(255,255,255)" stroke="none"/>
<rect x="294.7" y="732.6" width="3.1" height="1.3" rx="0.6" fill="rgb(255,255,255)" stroke="none"/>
<rect x="294.6" y="740.2" width="3.4" height="1.5" rx="0.6" fill="rgb(255,255,255)" stroke="none"/>
<rect x="304.7" y="722.1" width="2.8" height="1.1" rx="0.6" fill="rgb(123,123,123)" stroke="none"/>
<rect x="304.6" y="728.8" width="3.0" height="1.2" rx="0.6" fill="rgb(255,255,255)" stroke="none"/>
<rect x="304.5" y="736.1" width="3.3" height="1.4" rx="0.6" fill="rgb(255,255,255)" stroke="none"/>
<rect x="314.6" y="718.6" width="2.7" height="1.0" rx="0.6" fill="rgb(76,76,76)" stroke="none"/>
<rect x="314.5" y="725.1" width="2.9" height="1.2" rx="0.6" fill="rgb(164,164,164)" stroke="none"/>
<rect x="314.3" y="732.0" width="3.1" height="1.3" rx="0.6" fill="rgb(255,255,255)" stroke="none"/>
<rect x="314.2" y="739.6" width="3.4" height="1.5" rx="0.6" fill="rgb(255,255,255)" stroke="none"/>
<rect x="324.3" y="721.8" width="2.8" height="1.1" rx="0.6" fill="rgb(119,119,119)" stroke="none"/>
<rect x="324.2" y="728.5" width="3.0" height="1.2" rx="0.6" fill="rgb(165,165,165)" stroke="none"/>
<rect x="324.1" y="735.7" width="3.3" height="1.4" rx="0.6" fill="rgb(255,255,255)" stroke="none"/>
<rect x="334.2" y="718.5" width="2.6" height="1.0" rx="0.6" fill="rgb(164,164,164)" stroke="none"/>
<rect x="334.1" y="724.9" width="2.9" height="1.2" rx="0.6" fill="rgb(252,252,252)" stroke="none"/>
<rect x="333.9" y="731.9" width="3.1" height="1.3" rx="0.6" fill="rgb(165,165,165)" stroke="none"/>
<rect x="333.8" y="739.4" width="3.4" height="1.4" rx="0.6" fill="rgb(255,255,255)" stroke="none"/>
<rect x="343.9" y="721.8" width="2.8" height="1.1" rx="0.6" fill="rgb(209,209,209)" stroke="none"/>
<rect x="343.8" y="728.5" width="3.0" height="1.2" rx="0.6" fill="rgb(165,165,165)" stroke="none"/>
<rect x="343.7" y="735.8" width="3.3" height="1.4" rx="0.6" fill="rgb(255,255,255)" stroke="none"/>
<rect x="353.8" y="718.6" width="2.7" height="1.0" rx="0.6" fill="rgb(166,166,166)" stroke="none"/>
<rect x="353.7" y="725.1" width="2.9" height="1.2" rx="0.6" fill="rgb(254,254,254)" stroke="none"/>
<rect x="353.5" y="732.0" width="3.1" height="1.3" rx="0.6" fill="rgb(165,165,165)" stroke="none"/>
<rect x="353.4" y="739.6" width="3.4" height="1.5" rx="0.6" fill="rgb(255,255,255)" stroke="none"/>
<rect x="363.5" y="722.1" width="2.8" height="1.1" rx="0.6" fill="rgb(123,123,123)" stroke="none"/>
<rect x="363.4" y="728.8" width="3.0" height="1.2" rx="0.6" fill="rgb(255,255,255)" stroke="none"/>
<rect x="363.3" y="736.1" width="3.3" height="1.4" rx="0.6" fill="rgb(255,255,255)" stroke="none"/>
<rect x="373.4" y="719.1" width="2.7" height="1.0" rx="0.6" fill="rgb(172,172,172)" stroke="none"/>
<rect x="373.3" y="725.6" width="2.9" height="1.2" rx="0.6" fill="rgb(255,255,255)" stroke="none"/>
<rect x="373.1" y="732.6" width="3.1" height="1.3" rx="0.6" fill="rgb(165,165,165)" stroke="none"/>
<rect x="373.0" y="740.2" width="3.4" height="1.5" rx="0.6" fill="rgb(255,255,255)" stroke="none"/>
<rect x="383.1" y="722.7" width="2.8" height="1.1" rx="0.6" fill="rgb(222,222,222)" stroke="none"/>
<rect x="383.0" y="729.5" width="3.0" height="1.2" rx="0.6" fill="rgb(255,255,255)" stroke="none"/>
<rect x="382.9" y="736.8" width="3.3" height="1.4" rx="0.6" fill="rgb(255,255,255)" stroke="none"/>
<rect x="393.0" y="719.9" width="2.7" height="1.1" rx="0.6" fill="rgb(93,93,93)" stroke="none"/>
<rect x="392.8" y="726.4" width="2.9" height="1.2" rx="0.6" fill="rgb(255,255,255)" stroke="none"/>
<rect x="392.7" y="733.5" width="3.2" height="1.3" rx="0.6" fill="rgb(165,165,165)" stroke="none"/>
<rect x="392.6" y="741.2" width="3.4" height="1.5" rx="0.6" fill="rgb(255,255,255)" stroke="none"/>
<rect x="402.7" y="723.7" width="2.8" height="1.1" rx="0.6" fill="rgb(235,235,235)" stroke="none"/>
<rect x="402.6" y="730.5" width="3.1" height="1.3" rx="0.6" fill="rgb(255,255,255)" stroke="none"/>
<rect x="402.4" y="737.9" width="3.3" height="1.4" rx="0.6" fill="rgb(255,255,255)" stroke="none"/>
<rect x="412.5" y="721.0" width="2.7" height="1.1" rx="0.6" fill="rgb(198,198,198)" stroke="none"/>
<rect x="412.4" y="727.6" width="3.0" height="1.2" rx="0.6" fill="rgb(255,255,255)" stroke="none"/>
<rect x="412.3" y="734.8" width="3.2" height="1.4" rx="0.6" fill="rgb(255,255,255)" stroke="none"/>
<rect x="412.2" y="742.6" width="3.5" height="1.5" rx="0.6" fill="rgb(255,255,255)" stroke="none"/>
<rect x="422.3" y="725.0" width="2.9" height="1.2" rx="0.6" fill="rgb(162,162,162)" stroke="none"/>
<rect x="422.1" y="731.9" width="3.1" height="1.3" rx="0.6" fill="rgb(165,165,165)" stroke="none"/>
<rect x="422.0" y="739.5" width="3.4" height="1.5" rx="0.6" fill="rgb(255,255,255)" stroke="none"/>
<rect x="432.1" y="722.5" width="2.8" height="1.1" rx="0.6" fill="rgb(219,219,219)" stroke="none"/>
<rect x="432.0" y="729.2" width="3.0" height="1.2" rx="0.6" fill="rgb(255,255,255)" stroke="none"/>
<rect x="431.9" y="736.6" width="3.3" height="1.4" rx="0.6" fill="rgb(255,255,255)" stroke="none"/>
<rect x="431.7" y="744.5" width="3.6" height="1.6" rx="0.6" fill="rgb(255,255,255)" stroke="none"/>
<rect x="441.8" y="726.7" width="2.9" height="1.2" rx="0.6" fill="rgb(255,255,255)" stroke="none"/>
<rect x="441.7" y="733.8" width="3.2" height="1.3" rx="0.6" fill="rgb(255,255,255)" stroke="none"/>
<rect x="441.6" y="741.5" width="3.5" height="1.5" rx="0.6" fill="rgb(255,255,255)" stroke="none"/>
<rect x="441.4" y="749.9" width="3.8" height="1.7" rx="0.6" fill="rgb(255,255,255)" stroke="none"/>
<rect x="451.7" y="724.4" width="2.9" height="1.1" rx="0.6" fill="rgb(245,245,245)" stroke="none"/>
<rect x="451.6" y="731.3" width="3.1" height="1.3" rx="0.6" fill="rgb(255,255,255)" stroke="none"/>
<rect x="451.4" y="738.8" width="3.4" height="1.4" rx="0.6" fill="rgb(255,255,255)" stroke="none"/>
<rect x="451.3" y="747.0" width="3.7" height="1.6" rx="0.6" fill="rgb(255,255,255)" stroke="none"/>
<rect x="451.1" y="755.8" width="4.0" height="1.8" rx="0.6" fill="rgb(255,255,255)" stroke="none"/>
<rect x="461.4" y="728.9" width="3.0" height="1.2" rx="0.6" fill="rgb(255,255,255)" stroke="none"/>
<rect x="461.3" y="736.1" width="3.3" height="1.4" rx="0.6" fill="rgb(255,255,255)" stroke="none"/>
<rect x="461.1" y="744.1" width="3.5" height="1.5" rx="0.6" fill="rgb(255,255,255)" stroke="none"/>
<rect x="461.0" y="752.7" width="3.9" height="1.7" rx="0.6" fill="rgb(255,255,255)" stroke="none"/>
<rect x="471.2" y="726.9" width="2.9" height="1.2" rx="0.6" fill="rgb(165,165,165)" stroke="none"/>
<rect x="471.1" y="734.0" width="3.2" height="1.3" rx="0.6" fill="rgb(255,255,255)" stroke="none"/>
<rect x="471.0" y="741.8" width="3.5" height="1.5" rx="0.6" fill="rgb(255,255,255)" stroke="none"/>
<rect x="470.8" y="750.2" width="3.8" height="1.7" rx="0.6" fill="rgb(255,255,255)" stroke="none"/>
<rect x="470.7" y="759.3" width="4.0" height="1.8" rx="0.6" fill="rgb(255,255,255)" stroke="none"/>
<rect x="480.9" y="731.7" width="3.1" height="1.3" rx="0.6" fill="rgb(255,255,255)" stroke="none"/>
<rect x="480.8" y="739.2" width="3.4" height="1.4" rx="0.6" fill="rgb(255,255,255)" stroke="none"/>
<rect x="480.7" y="747.4" width="3.7" height="1.6" rx="0.6" fill="rgb(255,255,255)" stroke="none"/>
<rect x="480.5" y="756.3" width="4.0" height="1.8" rx="0.6" fill="rgb(255,255,255)" stroke="none"/>
<rect x="490.8" y="730.1" width="3.1" height="1.3" rx="0.6" fill="rgb(255,255,255)" stroke="none"/>
<rect x="490.6" y="737.5" width="3.3" height="1.4" rx="0.6" fill="rgb(255,255,255)" stroke="none"/>
<rect x="490.5" y="745.6" width="3.6" height="1.6" rx="0.6" fill="rgb(255,255,255)" stroke="none"/>
<rect x="490.3" y="754.3" width="3.9" height="1.7" rx="0.6" fill="rgb(255,255,255)" stroke="none"/>
<rect x="500.5" y="735.4" width="3.2" height="1.4" rx="0.6" fill="rgb(255,255,255)" stroke="none"/>
<rect x="500.3" y="743.3" width="3.5" height="1.5" rx="0.6" fill="rgb(255,255,255)" stroke="none"/>
<rect x="500.2" y="751.8" width="3.8" height="1.7" rx="0.6" fill="rgb(255,255,255)" stroke="none"/>
<rect x="500.1" y="761.1" width="4.0" height="1.8" rx="0.6" fill="rgb(255,255,255)" stroke="none"/>
<rect x="510.3" y="734.5" width="3.2" height="1.4" rx="0.6" fill="rgb(255,255,255)" stroke="none"/>
<rect x="510.2" y="742.3" width="3.5" height="1.5" rx="0.6" fill="rgb(255,255,255)" stroke="none"/>
<rect x="510.0" y="750.8" width="3.8" height="1.7" rx="0.6" fill="rgb(255,255,255)" stroke="none"/>
<rect x="520.0" y="740.8" width="3.4" height="1.5" rx="0.6" fill="rgb(255,255,255)" stroke="none"/>
<rect x="519.8" y="749.1" width="3.7" height="1.6" rx="0.6" fill="rgb(255,255,255)" stroke="none"/>
<rect x="529.8" y="741.6" width="3.5" height="1.5" rx="0.6" fill="rgb(255,255,255)" stroke="none"/>
<rect x="529.6" y="750.0" width="3.8" height="1.7" rx="0.6" fill="rgb(255,255,255)" stroke="none"/>
<path d="M151.2,761.1 Q154.2,762.5 157.2,761.1 Q155.6,763.3 157.2,765.5 Q154.2,764.1 151.2,765.5 Q152.8,763.3 151.2,761.1 Z" style="fill:#fff;stroke:none"/>
<path d="M161.0,736.6 Q164.0,738.0 167.0,736.6 Q165.4,738.8 167.0,741.0 Q164.0,739.6 161.0,741.0 Q162.6,738.8 161.0,736.6 Z" style="fill:#fff;stroke:none"/>
<path d="M170.8,745.7 Q173.8,747.1 176.8,745.7 Q175.2,747.9 176.8,750.1 Q173.8,748.7 170.8,750.1 Q172.4,747.9 170.8,745.7 Z" style="fill:#fff;stroke:none"/>
<path d="M180.6,748.2 Q183.6,749.6 186.6,748.2 Q185.0,750.4 186.6,752.6 Q183.6,751.2 180.6,752.6 Q182.2,750.4 180.6,748.2 Z" style="fill:#fff;stroke:none"/>
<path d="M200.2,744.3 Q203.2,745.7 206.2,744.3 Q204.6,746.5 206.2,748.7 Q203.2,747.3 200.2,748.7 Q201.8,746.5 200.2,744.3 Z" style="fill:#fff;stroke:none"/>
<path d="M268.8,740.4 Q271.8,741.8 274.8,740.4 Q273.2,742.6 274.8,744.8 Q271.8,743.4 268.8,744.8 Q270.4,742.6 268.8,740.4 Z" style="fill:#fff;stroke:none"/>
<path d="M445.2,752.9 Q448.2,754.3 451.2,752.9 Q449.6,755.1 451.2,757.3 Q448.2,755.9 445.2,757.3 Q446.8,755.1 445.2,752.9 Z" style="fill:#fff;stroke:none"/>
<path d="M464.8,746.8 Q467.8,748.2 470.8,746.8 Q469.2,749.0 470.8,751.2 Q467.8,749.8 464.8,751.2 Q466.4,749.0 464.8,746.8 Z" style="fill:#fff;stroke:none"/>
<path d="M474.6,753.2 Q477.6,754.6 480.6,753.2 Q479.0,755.4 480.6,757.6 Q477.6,756.2 474.6,757.6 Q476.2,755.4 474.6,753.2 Z" style="fill:#fff;stroke:none"/>
<path d="M494.2,740.0 Q497.2,741.4 500.2,740.0 Q498.6,742.2 500.2,744.4 Q497.2,743.0 494.2,744.4 Q495.8,742.2 494.2,740.0 Z" style="fill:#fff;stroke:none"/>
<path d="M504.0,754.9 Q507.0,756.3 510.0,754.9 Q508.4,757.1 510.0,759.3 Q507.0,757.9 504.0,759.3 Q505.6,757.1 504.0,754.9 Z" style="fill:#fff;stroke:none"/>
</g>
<line x1="108.40" y1="748.00" x2="108.40" y2="900.00" stroke-width="1.5" />
<line x1="562.40" y1="748.00" x2="562.40" y2="900.00" stroke-width="1.5" />
<polygon class="ar" points="107.80,882.60 124.60,872.85 124.60,892.35"/>
<polygon class="ar" points="563.00,882.60 546.20,892.35 546.20,872.85"/>
<line x1="124.00" y1="882.60" x2="292.00" y2="882.60" stroke-width="1.7" />
<line x1="403.00" y1="882.60" x2="547.00" y2="882.60" stroke-width="1.7" />
<text class="t" transform="translate(350.00,882.80) rotate(0)" x="-34.00 -17.00 -0.70 18.00 37.00" y="8.94" font-size="26" text-anchor="middle">Ø 250</text>
</svg>
</body>
</html>
